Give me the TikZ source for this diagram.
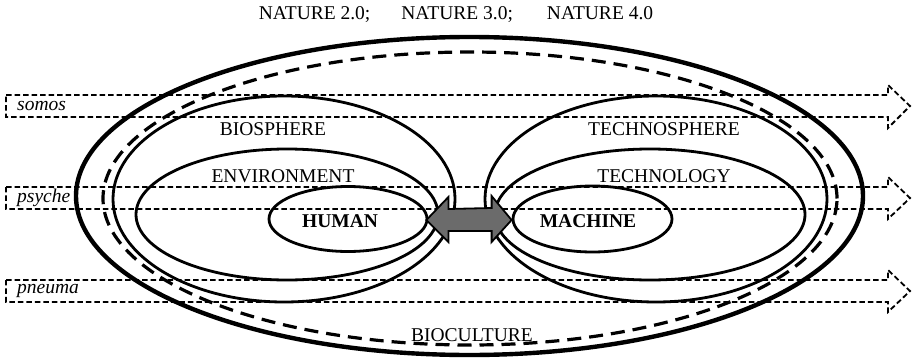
\documentclass[tikz,border=0pt]{standalone}
\usepackage{fontspec}
\setmainfont{Liberation Serif}
\usetikzlibrary{shapes.geometric,calc}

\tikzset{
  txt/.style={inner sep=0pt, font=\fontsize{19.5}{22}\selectfont},
  band/.style={line width=1.8pt, dash pattern=on 5.5pt off 3pt},
  sphere/.style={draw, ellipse, line width=2.8pt, inner sep=0pt},
  outer/.style={draw, ellipse, line width=4.4pt, inner sep=0pt},
  dashring/.style={draw, ellipse, line width=3.2pt, inner sep=0pt, dash pattern=on 14pt off 8pt},
  twoway/.style={fill=black!58, draw=black, line width=1.8pt, line join=miter},
}

\begin{document}
\begin{tikzpicture}[x=1pt, y=-1pt]
\useasboundingbox (0,0) rectangle (912,361);

% flow bands crossing the whole picture
\foreach \t/\b/\ht/\hb in {95/117/85/128, 187/209/177/219, 280/302/270/312}{
  \draw[band] (6,\t) -- (888,\t) -- (888,\ht) -- (910,{(\t+\b)/2}) -- (888,\hb)
              -- (888,\b) -- (6,\b) -- cycle;
}
\node[txt, anchor=west, font=\fontsize{19.5}{22}\selectfont\itshape] (somos) at (17,106) {somos};
\node[txt, anchor=west, font=\fontsize{19.5}{22}\selectfont\itshape] (psyche) at (17,198) {psyche};
\node[txt, anchor=west, font=\fontsize{19.5}{22}\selectfont\itshape] (pneuma) at (17,291) {pneuma};

% nested spheres
\node[outer, minimum width=787pt, minimum height=318pt] (bioculture) at (469.5,196) {};
\node[dashring, minimum width=734pt, minimum height=293pt] (nature) at (470,198.5) {};
\node[sphere, minimum width=342pt, minimum height=206pt] (biosphere) at (284,199) {};
\node[sphere, minimum width=342pt, minimum height=206pt] (technosphere) at (656,199) {};
\node[sphere, minimum width=302pt, minimum height=131pt] (environment) at (287,214.5) {};
\node[sphere, minimum width=310pt, minimum height=131pt] (technology) at (650,214.5) {};
\node[sphere, minimum width=158pt, minimum height=65pt] (human) at (348,219) {};
\node[sphere, minimum width=159pt, minimum height=66pt] (machine) at (592.5,219) {};

% labels
\node[txt] (title) at (456,15) {NATURE 2.0;\hspace{31pt}NATURE 3.0;\hspace{34pt}NATURE 4.0};
\node[txt] (lbio) at (273,129) {BIOSPHERE};
\node[txt] (ltechno) at (664,129) {TECHNOSPHERE};
\node[txt] (lenv) at (283,176) {ENVIRONMENT};
\node[txt] (ltech) at (664,176) {TECHNOLOGY};
\node[txt, font=\fontsize{19.5}{22}\selectfont\bfseries] (lhuman) at (340,221) {HUMAN};
\node[txt, font=\fontsize{19.5}{22}\selectfont\bfseries] (lmachine) at (588,221) {MACHINE};
\node[txt] (lbioc) at (472,335) {BIOCULTURE};

% two-way exchange between human and machine
\coordinate (L) at ($(human.east)+(-2,1)$);
\coordinate (R) at (machine.west);
\draw[twoway] (L) -- ($(L)+(22,-23)$) -- ($(L)+(22,-11)$) -- ($(R)+(-20,-11)$)
  -- ($(R)+(-20,-23)$) -- ($(R)+(0,1)$) -- ($(R)+(-20,23)$) -- ($(R)+(-20,12)$)
  -- ($(L)+(22,11)$) -- ($(L)+(22,22)$) -- cycle;
\end{tikzpicture}
\end{document}
